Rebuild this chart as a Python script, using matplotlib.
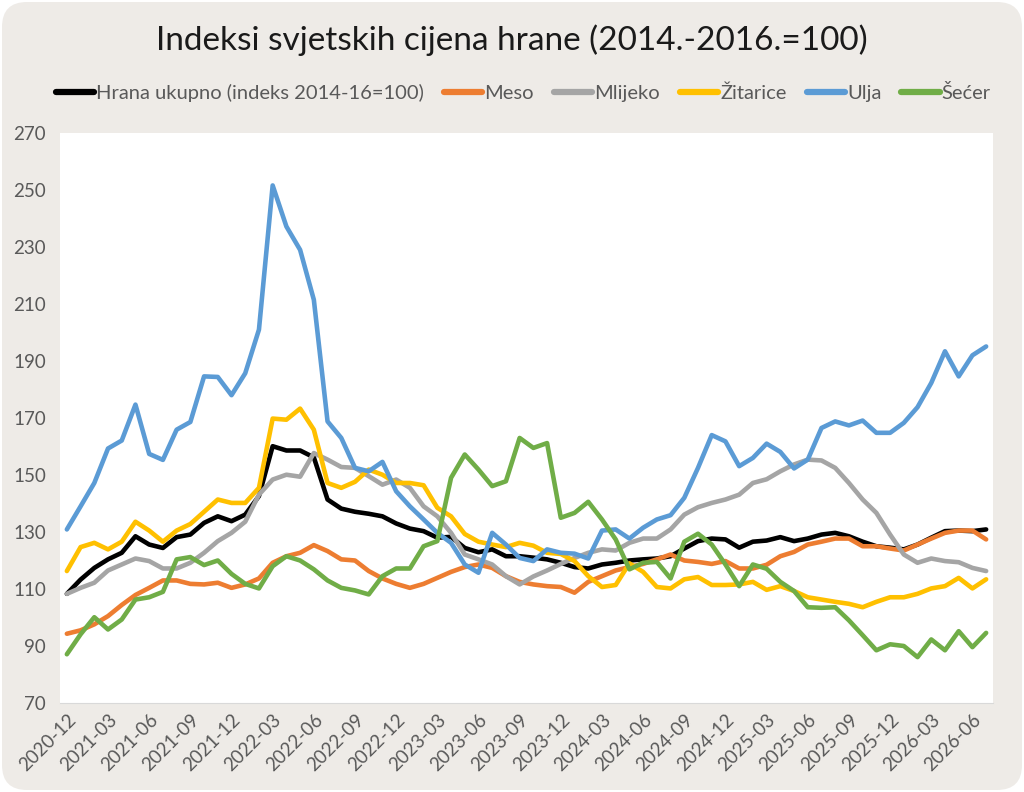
import matplotlib
matplotlib.use("Agg")
import matplotlib.pyplot as plt
from matplotlib.patches import FancyBboxPatch
import numpy as np

plt.rcParams['font.family'] = ['Lato', 'DejaVu Sans']

# mjeseci 2020-12 ... 2026-07
months = ['2020-12'] + ['%d-%02d' % (y, m) for y in range(2021, 2027) for m in range(1, 13)]
months = months[:68]

hrana = [108.3, 113.3, 117.4, 120.4, 122.7, 128.5, 125.6, 124.4, 128.2, 129.1, 133.2, 135.5, 133.8, 136.1, 142.6, 160.1, 158.6, 158.6,
         156.2, 141.4, 138.2, 137.1, 136.4, 135.5, 133.0, 131.2, 130.3, 128.0, 128.3, 124.4, 122.9, 123.9, 121.5, 121.5, 121.0,
         120.4, 119.2, 117.7, 117.2, 118.6, 119.2, 120.0, 120.4, 120.7, 121.5, 124.2, 126.8, 127.7, 127.4, 124.5, 126.6, 127.0,
         128.2, 126.8, 127.7, 129.1, 129.7, 128.5, 126.6, 125.0, 124.5, 123.9, 125.6, 128.0, 130.3, 130.5, 130.3, 130.9]
meso = [94.3, 95.5, 97.6, 100.5, 104.4, 107.9, 110.4, 113.0, 113.0, 111.8, 111.6, 112.2, 110.4, 111.6, 113.7, 119.2, 121.5, 122.7,
        125.4, 123.3, 120.4, 120.0, 116.3, 113.7, 111.8, 110.4, 111.8, 113.9, 116.0, 117.7, 118.6, 117.4, 114.5, 112.5, 111.6,
        111.0, 110.7, 108.7, 112.5, 114.5, 116.5, 117.7, 118.8, 120.4, 122.1, 120.0, 119.5, 118.8, 119.8, 117.2, 117.2, 118.5,
        121.5, 123.0, 125.6, 126.6, 127.7, 127.7, 125.0, 125.0, 124.2, 123.5, 125.6, 127.7, 129.7, 130.5, 130.5, 127.4]
mlijeko = [108.3, 110.4, 112.2, 116.5, 118.6, 120.7, 119.8, 117.2, 117.2, 119.2, 122.7, 126.8, 129.7, 133.6, 143.1, 148.4, 150.1, 149.4,
           157.7, 155.4, 152.8, 152.5, 149.6, 146.6, 148.4, 145.5, 139.0, 135.5, 129.7, 122.1, 120.4, 118.6, 114.5, 111.6, 114.4,
           116.5, 118.8, 120.9, 122.7, 123.9, 123.5, 126.2, 127.7, 127.7, 130.9, 136.1, 138.7, 140.2, 141.4, 143.1, 147.2, 148.5,
           151.3, 153.7, 155.4, 155.1, 152.5, 147.2, 141.4, 136.7, 129.1, 122.1, 119.2, 120.7, 119.8, 119.4, 117.4, 116.3]
zitarice = [116.3, 124.7, 126.2, 123.9, 126.6, 133.6, 130.5, 126.6, 130.5, 132.8, 137.1, 141.4, 140.2, 140.2, 145.5, 169.8, 169.4, 173.3,
            165.9, 147.2, 145.5, 147.6, 151.9, 150.1, 147.2, 147.2, 146.4, 138.5, 135.5, 129.3, 126.6, 125.6, 124.7, 126.2, 125.2,
            122.7, 122.3, 119.8, 114.5, 110.7, 111.4, 119.0, 116.0, 110.7, 110.2, 113.4, 114.2, 111.4, 111.4, 111.6, 112.5, 109.7,
            111.0, 109.3, 107.1, 106.3, 105.5, 104.8, 103.6, 105.5, 107.1, 107.1, 108.3, 110.2, 111.0, 113.9, 110.2, 113.4]
ulja = [130.9, 139.0, 147.2, 159.3, 162.1, 174.7, 157.4, 155.3, 165.9, 168.6, 184.6, 184.4, 178.0, 185.7, 201.0, 251.6, 237.2, 229.0,
        211.5, 168.8, 163.0, 152.5, 151.3, 154.6, 144.3, 139.0, 134.4, 129.7, 126.2, 118.6, 115.7, 129.7, 125.6, 120.9, 119.8,
        123.9, 122.7, 122.4, 120.7, 130.5, 130.9, 127.7, 131.5, 134.4, 135.9, 142.0, 152.5, 164.0, 161.8, 153.1, 156.0, 161.0,
        158.1, 152.3, 155.4, 166.5, 168.8, 167.4, 169.1, 164.8, 164.8, 168.3, 173.8, 182.3, 193.4, 184.6, 192.0, 195.1]
secer = [87.1, 94.1, 100.1, 95.8, 99.3, 106.3, 107.1, 109.0, 120.4, 121.2, 118.4, 120.0, 115.3, 111.8, 110.2, 118.0, 121.5, 120.0,
         116.9, 113.0, 110.4, 109.5, 108.1, 114.5, 117.2, 117.2, 125.0, 126.8, 149.0, 157.2, 151.9, 146.1, 147.8, 163.0, 159.5,
         161.2, 135.0, 136.7, 140.6, 134.4, 127.4, 116.9, 119.2, 119.5, 113.7, 126.6, 129.4, 125.6, 118.6, 111.0, 118.6, 117.1,
         112.5, 109.3, 103.6, 103.4, 103.6, 99.0, 93.8, 88.5, 90.6, 90.0, 86.1, 92.3, 88.5, 95.2, 89.6, 94.6]

series = [('Hrana ukupno (indeks 2014-16=100)', hrana, '#000000'),
          ('Meso', meso, '#ED7D31'),
          ('Mlijeko', mlijeko, '#A5A5A5'),
          ('Žitarice', zitarice, '#FFC000'),
          ('Ulja', ulja, '#5B9BD5'),
          ('Šećer', secer, '#70AD47')]

fig = plt.figure(figsize=(10.24, 7.92), dpi=100)
fig.patch.set_facecolor('white')
# bež pozadina sa zaobljenim kutovima
bg = FancyBboxPatch((0.02, 0.02), 10.2, 7.88, boxstyle='round,pad=0,rounding_size=0.25',
                    transform=fig.dpi_scale_trans, facecolor='#EEEBE7', edgecolor='none', zorder=-10)
fig.patches.append(bg)

ax = fig.add_axes([60/1024, 89/792, 933/1024, 570/792])
ax.set_facecolor('white')
x = np.arange(len(months))
for name, vals, col in series:
    ax.plot(x, vals, color=col, lw=3.3, label=name, solid_capstyle='round', solid_joinstyle='round')

ax.set_xlim(-0.5, len(months) - 0.5)
ax.set_ylim(70, 270)
ax.set_yticks(np.arange(70, 271, 20))
ax.set_xticks(x[::3])
ax.set_xticklabels(months[::3], rotation=45, ha='right', rotation_mode='anchor')
ax.tick_params(axis='both', length=0, labelsize=13.5, labelcolor='#595959')
ax.tick_params(axis='x', pad=6)
ax.tick_params(axis='y', pad=10)
for s in ['top', 'right', 'left']:
    ax.spines[s].set_visible(False)
ax.spines['bottom'].set_color('#D9D9D9')

fig.text(0.5, 1 - 40/792, 'Indeksi svjetskih cijena hrane (2014.-2016.=100)', ha='center', va='center',
         fontsize=24, color='#1a1a1a')
leg = fig.legend(loc='center', bbox_to_anchor=(0.511, 1 - 93/792), ncol=6, frameon=False, fontsize=14.5,
                 handlelength=1.9, handletextpad=0.1, columnspacing=1.0)
for t in leg.get_texts():
    t.set_color('#595959')
for h in leg.get_lines():
    h.set_linewidth(4.5)

fig.savefig('out.png', dpi=100, facecolor=fig.get_facecolor())
